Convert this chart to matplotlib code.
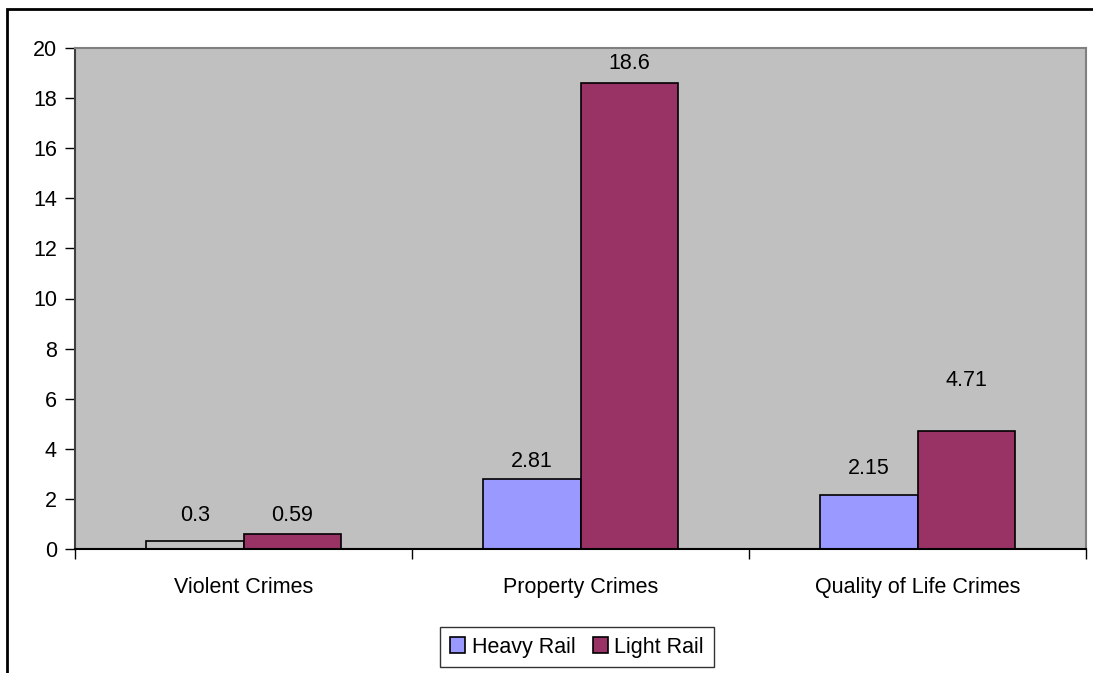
import numpy as np
import matplotlib
matplotlib.use("Agg")
import matplotlib.pyplot as plt
from matplotlib.patches import Rectangle

categories = ["Violent Crimes", "Property Crimes", "Quality of Life Crimes"]
heavy_rail = [0.3, 2.81, 2.15]
light_rail = [0.59, 18.6, 4.71]
heavy_labels = ["0.3", "2.81", "2.15"]
light_labels = ["0.59", "18.6", "4.71"]
y_ticks = [0, 2, 4, 6, 8, 10, 12, 14, 16, 18, 20]

plt.rcParams['font.family'] = ['Liberation Sans', 'DejaVu Sans']
fs = 15.5

fig = plt.figure(figsize=(10.93, 6.73), dpi=100)
ax = fig.add_axes([75 / 1093, 1 - 549 / 673, (1086 - 75) / 1093, (549 - 48) / 673])

# outer frame (only top and left visible in the original)
fig.add_artist(Rectangle((7 / 1093, -0.1), 1.2, 1 - 9 / 673 + 0.1, transform=fig.transFigure,
                         fill=False, edgecolor='black', linewidth=2))

ax.set_facecolor('#C0C0C0')
x = np.arange(len(categories))
w = 0.288
heavy_colors = ['#C0C0C0', '#9999FF', '#9999FF']
hb = ax.bar(x - w / 2, heavy_rail, w, color=heavy_colors, edgecolor='black', linewidth=1.2, label='Heavy Rail')
lb = ax.bar(x + w / 2, light_rail, w, color='#993366', edgecolor='black', linewidth=1.2, label='Light Rail')

heavy_off = [26, 17, 27]
light_off = [19, 20, 51]
for i in range(len(categories)):
    ax.annotate(heavy_labels[i], (x[i] - w / 2, heavy_rail[i]), xytext=(0, heavy_off[i]),
                textcoords='offset pixels', ha='center', va='center', fontsize=fs)
    ax.annotate(light_labels[i], (x[i] + w / 2, light_rail[i]), xytext=(0, light_off[i]),
                textcoords='offset pixels', ha='center', va='center', fontsize=fs)

ax.set_xlim(-0.5, 2.5)
ax.set_ylim(0, 20)
ax.set_yticks(y_ticks)
ax.tick_params(axis='y', labelsize=fs, length=7, direction='out', pad=6, width=1)
ax.set_xticks(x)
ax.set_xticklabels(categories, fontsize=fs)
ax.tick_params(axis='x', which='major', length=0, pad=20)
ax.set_xticks([-0.5, 0.5, 1.5, 2.5], minor=True)
ax.tick_params(axis='x', which='minor', length=7, width=1, direction='out')

ax.spines['left'].set_color('#404040')
ax.spines['bottom'].set_color('black')
ax.spines['top'].set_color('#808080')
ax.spines['right'].set_color('#808080')
for s in ax.spines.values():
    s.set_linewidth(1.5)

leg = fig.legend(handles=[hb, lb], labels=['Heavy Rail', 'Light Rail'], loc='center',
                 bbox_to_anchor=(577 / 1093, 1 - 647 / 673), ncol=2, fontsize=fs,
                 frameon=True, fancybox=False, handlelength=0.7, handleheight=0.7,
                 handletextpad=0.3, columnspacing=0.8, borderpad=0.45)
leg.get_frame().set_edgecolor('black')
leg.get_frame().set_linewidth(1)
leg.legend_handles[0].set_facecolor('#9999FF')

fig.savefig('out.png', dpi=100)
